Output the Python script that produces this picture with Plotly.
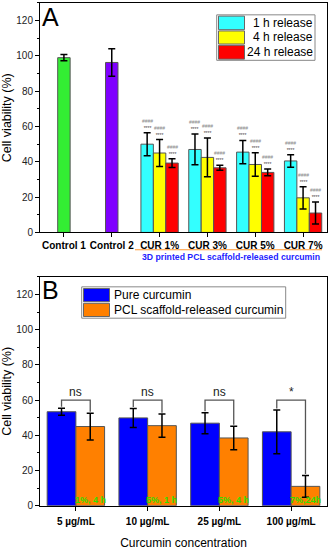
import plotly.graph_objects as go

# ---------------- Panel A data ----------------
a_categories = ["Control 1", "Control 2", "CUR 1%", "CUR 3%", "CUR 5%", "CUR 7%"]
control_names = ["Control 1", "Control 2"]
control_values = [99.0, 96.3]
control_errors = [1.8, 7.8]
control_colors = ["#33ee33", "#7f00ff"]
cur_groups = ["CUR 1%", "CUR 3%", "CUR 5%", "CUR 7%"]
release_names = ["1 h release", "4 h release", "24 h release"]
release_1h = [50.0, 47.0, 45.5, 40.5]
release_1h_err = [6.5, 8.7, 6.6, 3.5]
release_4h = [45.0, 42.5, 38.5, 19.6]
release_4h_err = [7.6, 11.0, 6.7, 6.3]
release_24h = [39.3, 36.6, 34.0, 11.0]
release_24h_err = [2.5, 1.4, 1.9, 6.2]
release_colors = ["#33ffff", "#ffff00", "#ff0000"]
hash_label = "####"
star_label = "****"
a_group_caption = "3D printed PCL scaffold-released curcumin"

# ---------------- Panel B data ----------------
b_categories = ["5 µg/mL", "10 µg/mL", "25 µg/mL", "100 µg/mL"]
b_series = ["Pure curcumin", "PCL scaffold-released curcumin"]
pure_values = [53.4, 49.9, 46.9, 42.0]
pure_errors = [2.0, 5.4, 6.0, 12.4]
pcl_values = [45.0, 45.5, 38.5, 11.0]
pcl_errors = [7.6, 6.6, 6.7, 6.2]
pcl_labels = ["1%, 4 h", "5%, 1 h", "5%, 4 h", "7%,24h"]
sig_labels = ["ns", "ns", "ns", "*"]
sig_level = 60

y_ticks = [0, 20, 40, 60, 80, 100, 120]
y_range = [0, 130]

FONT = "Liberation Sans, Arial, sans-serif"
W, H = 331, 550

def px_x(p):
    return p / W

def px_y(p):
    return 1 - p / H

fig = go.Figure()

bar_w = 0.26
outline = dict(color="#555555", width=1)
err_style = dict(type="data", color="black", thickness=1.5, width=3.5)

# Controls
for name, v, e, c in zip(control_names, control_values, control_errors, control_colors):
    fig.add_trace(go.Bar(
        x=[name], y=[v], width=bar_w, offset=-bar_w / 2,
        marker=dict(color=c, line=outline),
        error_y=dict(array=[e], **err_style),
        showlegend=False, xaxis="x", yaxis="y", name=name))

release_vals = [release_1h, release_4h, release_24h]
release_errs = [release_1h_err, release_4h_err, release_24h_err]
for k, (name, vals, errs, c) in enumerate(zip(release_names, release_vals, release_errs, release_colors)):
    fig.add_trace(go.Bar(
        x=cur_groups, y=vals, width=bar_w, offset=-1.5 * bar_w + k * bar_w,
        marker=dict(color=c, line=outline),
        error_y=dict(array=errs, **err_style),
        name=name, showlegend=False, xaxis="x", yaxis="y"))

# significance marks above CUR bars
annotations = []
for k, (vals, errs) in enumerate(zip(release_vals, release_errs)):
    for g, (v, e) in enumerate(zip(vals, errs)):
        xi = a_categories.index(cur_groups[g]) - bar_w + k * bar_w
        annotations.append(dict(
            x=xi, y=v + e, xref="x", yref="y", showarrow=False,
            text=f"<span style='color:#8a8a8a'>{hash_label}</span><br>{star_label}",
            font=dict(family=FONT, size=5, color="#444444"),
            yanchor="bottom", xanchor="center", yshift=0))

# ---------------- Panel B traces ----------------
bw = 0.4
b_colors = ["#0000ff", "#ff8000"]
for k, (name, vals, errs, c) in enumerate(zip(b_series, [pure_values, pcl_values], [pure_errors, pcl_errors], b_colors)):
    fig.add_trace(go.Bar(
        x=b_categories, y=vals, width=bw, offset=-bw + k * bw,
        marker=dict(color=c, line=outline),
        error_y=dict(array=errs, **err_style),
        name=name, showlegend=False, xaxis="x2", yaxis="y2"))

shapes = []
for i, (pv, pe, ov, oe, sl, lab) in enumerate(zip(pure_values, pure_errors, pcl_values, pcl_errors, sig_labels, pcl_labels)):
    xl, xr = i - bw / 2, i + bw / 2
    shapes.append(dict(
        type="path", xref="x2", yref="y2",
        path=f"M {xl} {pv + pe + 0.8} L {xl} {sig_level} L {xr} {sig_level} L {xr} {ov + oe + 0.8}",
        line=dict(color="#555555", width=1.3)))
    annotations.append(dict(
        x=i, y=sig_level, xref="x2", yref="y2", text=sl, showarrow=False,
        yanchor="bottom", font=dict(family=FONT, size=12, color="#222222"), yshift=-1))
    annotations.append(dict(
        x=xr, y=0, xref="x2", yref="y2", text=f"<b>{lab}</b>", showarrow=False,
        yanchor="bottom", font=dict(family=FONT, size=9, color="#33dd00"), yshift=-1))

# ---------------- Legends (boxed, large swatches) ----------------
def boxed_legend(box, swatch_x, rows, names, colors, text_x, align):
    x0, y0, x1, y1 = box
    shapes.append(dict(type="rect", xref="paper", yref="paper",
                       x0=px_x(x0), x1=px_x(x1), y0=px_y(y1), y1=px_y(y0),
                       line=dict(color="#888888", width=1), fillcolor="white", layer="above"))
    for (ry0, ry1), name, c in zip(rows, names, colors):
        shapes.append(dict(type="rect", xref="paper", yref="paper",
                           x0=px_x(swatch_x[0]), x1=px_x(swatch_x[1]),
                           y0=px_y(ry1), y1=px_y(ry0),
                           line=dict(color="#666666", width=1), fillcolor=c, layer="above"))
        annotations.append(dict(x=px_x(text_x), y=px_y((ry0 + ry1) / 2), xref="paper", yref="paper",
                                text=name, showarrow=False, xanchor=align, yanchor="middle",
                                font=dict(family=FONT, size=12, color="black")))

boxed_legend((216.7, 15, 315, 61), (218.5, 244.5),
             [(16.3, 30), (31.3, 44.5), (45.8, 59.8)],
             release_names, release_colors, 314.5, "right")
boxed_legend((81.7, 290, 285.7, 321.7), (83.5, 109.5),
             [(291.7, 305), (306.7, 320)],
             b_series, b_colors, 111.5, "left")

# Panel A caption under ticks
shapes.append(dict(type="line", xref="paper", yref="paper",
                   x0=px_x(135), x1=px_x(322), y0=px_y(252.5), y1=px_y(252.5),
                   line=dict(color="#ff9933", width=1.2)))
annotations.append(dict(x=px_x(231), y=px_y(260), xref="paper", yref="paper",
                        text=f"<b>{a_group_caption}</b>", showarrow=False,
                        font=dict(family=FONT, size=8.7, color="#2222ff"),
                        xanchor="center", yanchor="middle"))

# Panel letters
annotations.append(dict(x=px_x(40), y=px_y(1), xref="paper", yref="paper", text="A",
                        showarrow=False, xanchor="left", yanchor="top",
                        font=dict(family=FONT, size=25, color="black")))
annotations.append(dict(x=px_x(40), y=px_y(277), xref="paper", yref="paper", text="B",
                        showarrow=False, xanchor="left", yanchor="top",
                        font=dict(family=FONT, size=25, color="black")))

xdom = [px_x(40), px_x(327)]
common_y = dict(range=y_range, tickvals=y_ticks, ticks="outside", ticklen=4,
                tickcolor="black", showline=True, linecolor="black", linewidth=1,
                mirror=True, showgrid=False, zeroline=False,
                minor=dict(ticks="outside", ticklen=2, dtick=10, tickcolor="black"),
                tickfont=dict(family=FONT, size=10, color="#222222"),
                title=dict(text="Cell viability (%)", font=dict(family=FONT, size=12.5, color="black"), standoff=2))
common_x = dict(ticks="outside", ticklen=4, tickcolor="black", showline=True,
                linecolor="black", linewidth=1, mirror=True, showgrid=False,
                domain=xdom, type="category",
                tickfont=dict(family=FONT, size=10, color="black"))

fig.update_layout(
    width=W, height=H, margin=dict(l=0, r=0, t=0, b=0),
    paper_bgcolor="white", plot_bgcolor="white", barmode="overlay",
    font=dict(family=FONT), showlegend=False,
    xaxis=dict(**common_x, anchor="y", categoryorder="array", categoryarray=a_categories,
               range=[-0.5, len(a_categories) - 0.5],
               tickvals=a_categories, ticktext=[f"<b>{c}</b>" for c in a_categories]),
    yaxis=dict(**common_y, domain=[px_y(235), px_y(3)], anchor="x"),
    xaxis2=dict(**common_x, anchor="y2", categoryorder="array", categoryarray=b_categories,
                range=[-0.5, len(b_categories) - 0.5],
                tickvals=b_categories, ticktext=[f"<b>{c}</b>" for c in b_categories],
                ticklabelstandoff=2,
                title=dict(text="Curcumin concentration", font=dict(family=FONT, size=12, color="black"), standoff=12)),
    yaxis2=dict(**common_y, domain=[px_y(511.3), px_y(280)], anchor="x2"),
    shapes=shapes, annotations=annotations,
)

fig.write_html("out.html", config={"displayModeBar": False},
               post_script="document.body.style.margin='0';document.body.style.padding='0';")
